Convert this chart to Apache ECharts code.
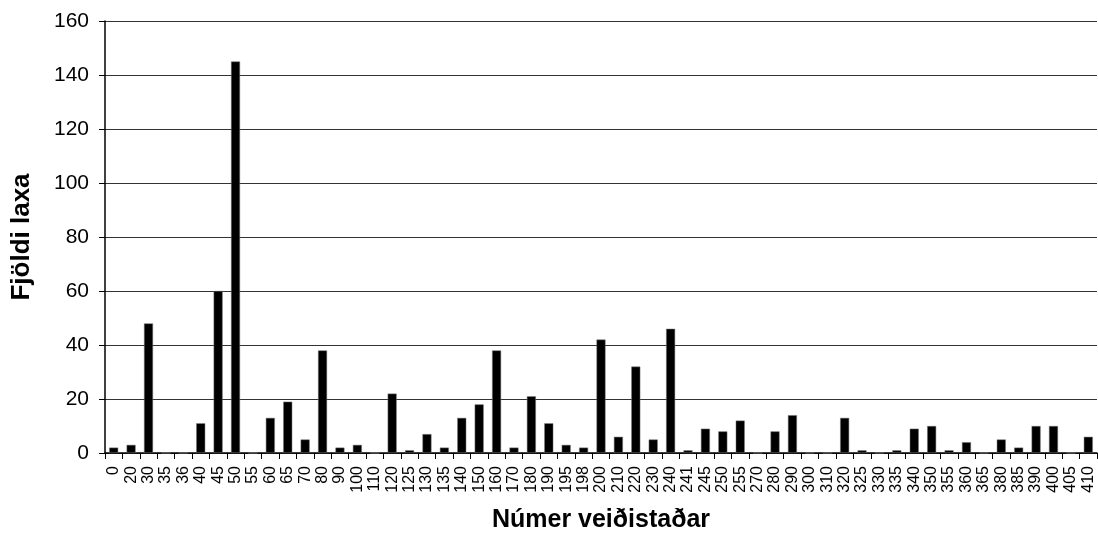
<!DOCTYPE html>
<html>
<head>
<meta charset="utf-8">
<script src="https://cdn.jsdelivr.net/npm/echarts@6/dist/echarts.min.js"></script>
<style>
  html, body { margin: 0; padding: 0; background: #fff; }
  #chart { width: 1098px; height: 538px; }
</style>
</head>
<body>
<div id="chart"></div>
<script>
// veiðistaðir (fishing spots) on the x axis
const categories = ['0', '20', '30', '35', '36', '40', '45', '50', '55', '60', '65', '70', '80', '90', '100', '110',
  '120', '125', '130', '135', '140', '150', '160', '170', '180', '190', '195', '198', '200', '210', '220', '230',
  '240', '241', '245', '250', '255', '270', '280', '290', '300', '310', '320', '325', '330', '335', '340', '350',
  '355', '360', '365', '380', '385', '390', '400', '405', '410']
// number of salmon per spot
const counts = [2, 3, 48, 0, 0, 11, 60, 145, 0, 13, 19, 5, 38, 2, 3, 0,
  22, 1, 7, 2, 13, 18, 38, 2, 21, 11, 3, 2, 42, 6, 32, 5,
  46, 1, 9, 8, 12, 0, 8, 14, 0, 0, 13, 1, 0, 1, 9, 10,
  1, 4, 0, 5, 2, 10, 10, 0, 6]
const yTicks = { min: 0, max: 160, interval: 20 }

const chart = echarts.init(document.getElementById('chart'))
const font = 'Liberation Sans, Arial, sans-serif'

chart.setOption({
  animation: false,
  grid: { left: 105, right: 1, top: 21, bottom: 85 },
  xAxis: {
    type: 'category',
    data: categories,
    name: 'Númer veiðistaðar',
    nameLocation: 'middle',
    nameGap: 55,
    nameTextStyle: { fontFamily: font, fontWeight: 'bold', fontSize: 25, color: '#000', verticalAlign: 'top' },
    axisLine: { lineStyle: { color: '#000', width: 1.5 } },
    axisTick: { show: true, length: 6, lineStyle: { color: '#000' } },
    axisLabel: { rotate: 90, interval: 0, fontFamily: font, fontSize: 16, color: '#000', margin: 13 }
  },
  yAxis: {
    type: 'value',
    min: yTicks.min,
    max: yTicks.max,
    interval: yTicks.interval,
    name: 'Fjöldi laxa',
    nameLocation: 'middle',
    nameGap: 70,
    nameTextStyle: { fontFamily: font, fontWeight: 'bold', fontSize: 26, color: '#000' },
    axisLine: { show: true, lineStyle: { color: '#000', width: 1.5 } },
    axisTick: { show: true, length: 6, lineStyle: { color: '#000' } },
    axisLabel: { fontFamily: font, fontSize: 21, color: '#000', margin: 16 },
    splitLine: { lineStyle: { color: '#333', width: 1 } }
  },
  series: [
    {
      type: 'bar',
      data: counts,
      barWidth: 9,
      itemStyle: { color: '#000', borderColor: '#777', borderWidth: 0.5 }
    }
  ]
})
</script>
</body>
</html>
